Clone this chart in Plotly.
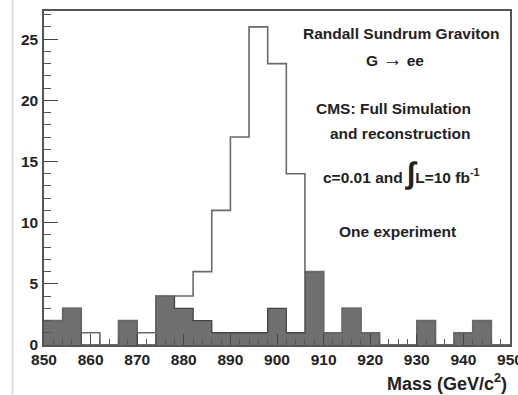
import plotly.graph_objects as go

# ---- data ----
bin_edges = [850 + 4 * i for i in range(26)]
experiment_counts = [2, 3, 0, 0, 2, 0, 4, 3, 2, 1, 1, 1, 3, 1, 6, 1, 3, 1, 0, 0, 2, 0, 1, 2, 0]
signal_counts = [2, 3, 1, 0, 2, 1, 4, 4, 6, 11, 17, 26, 23, 14, 6, 1, 3, 1, 0, 0, 2, 0, 1, 2, 0]
x_tick_vals = [850, 860, 870, 880, 890, 900, 910, 920, 930, 940, 950]
y_tick_vals = [0, 5, 10, 15, 20, 25]
text_lines = [
    "Randall Sundrum Graviton",
    "G <span style='font-size:20px'>\u2192</span> ee",
    "CMS: Full Simulation",
    "and reconstruction",
    "c=0.01 and <span style='font-size:30px'>\u222b</span>L=10 fb<sup>-1</sup>",
    "One experiment",
]

W, H = 518, 395
L, R, T, B = 43.5, 8, 10.7, 49.7
PH = H - T - B

fig = go.Figure()

fig.add_trace(go.Scatter(
    x=bin_edges, y=experiment_counts + [experiment_counts[-1]],
    mode="lines", line_shape="hv", fill="tozeroy",
    fillcolor="#707070", line=dict(color="#454545", width=1.3),
    hoverinfo="skip", showlegend=False))

fig.add_trace(go.Scatter(
    x=bin_edges, y=signal_counts + [signal_counts[-1]],
    mode="lines", line_shape="hv",
    line=dict(color="#6a6a6a", width=1.6),
    hoverinfo="skip", showlegend=False))

tick_font = dict(family="Liberation Sans, Arial", size=15.5, color="#222", weight="bold")

fig.update_xaxes(
    range=[850, 950], tickvals=x_tick_vals, ticktext=[str(v) for v in x_tick_vals],
    ticks="inside", ticklen=11, tickwidth=1.2, tickcolor="#444",
    minor=dict(dtick=2, ticks="inside", ticklen=6, tickcolor="#555", tickwidth=1),
    showline=True, mirror=True, linecolor="#555", linewidth=1.5,
    showgrid=False, zeroline=False, tickfont=tick_font,
    ticklabeloverflow="allow", ticklabelstandoff=0, automargin=False)

fig.update_yaxes(
    range=[0, 27.3], tickvals=y_tick_vals, ticktext=[str(v) for v in y_tick_vals],
    ticks="inside", ticklen=14, tickwidth=1.2, tickcolor="#444",
    minor=dict(dtick=1, ticks="inside", ticklen=7, tickcolor="#555", tickwidth=1),
    showline=True, mirror=True, linecolor="#555", linewidth=1.5,
    showgrid=False, zeroline=False, tickfont=tick_font, ticklabelstandoff=1,
    automargin=False)

def py(pix):
    return (H - B - pix) / PH

text_y_px = [33, 59, 108, 133, 173, 232]
text_x_px = [401, 395, 393, 400, 401, 397]
annotations = []
for t, xp, ypx in zip(text_lines, text_x_px, text_y_px):
    annotations.append(dict(
        text=t, xref="paper", yref="paper",
        x=(xp - L) / (W - L - R), y=py(ypx), xanchor="center", yanchor="middle",
        showarrow=False,
        font=dict(family="Liberation Sans, Arial", size=15.5, color="#222", weight="bold")))

annotations.append(dict(
    text="Mass (GeV/c<sup>2</sup>)", xref="paper", yref="paper",
    x=(509 - L) / (W - L - R), y=py(383), xanchor="right", yanchor="middle",
    showarrow=False,
    font=dict(family="Liberation Sans, Arial", size=18, color="#222", weight="bold")))

fig.update_layout(
    width=W, height=H,
    margin=dict(l=L, r=R, t=T, b=B, pad=0, autoexpand=False),
    paper_bgcolor="white", plot_bgcolor="white",
    annotations=annotations,
    shapes=[dict(type="line", xref="paper", yref="paper",
                 x0=(12 - L) / (W - L - R), x1=(12 - L) / (W - L - R),
                 y0=py(H), y1=py(0), line=dict(color="#dddddd", width=2))],
)

fig.write_html("out.html")
